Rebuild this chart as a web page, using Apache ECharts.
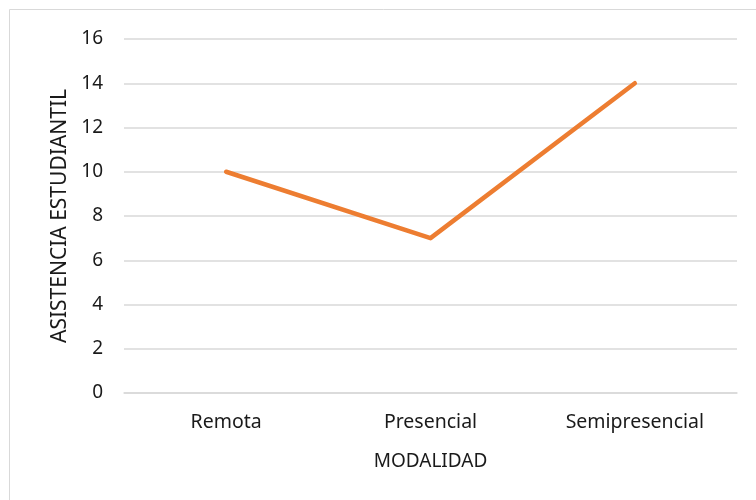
<!DOCTYPE html>
<html><head><meta charset="utf-8">
<script src="https://cdn.jsdelivr.net/npm/echarts@6/dist/echarts.min.js"></script>
<style>html,body{margin:0;padding:0;background:#fff}#c{width:756px;height:500px}</style>
</head><body><div id="c"></div>
<script>
var categories = ["Remota", "Presencial", "Semipresencial"];
var values = [10, 7, 14];
var yTicks = {min: 0, max: 16, interval: 2};

var chart = echarts.init(document.getElementById('c'), null, {renderer: 'canvas'});
var font = '"Noto Sans", sans-serif';
chart.setOption({
  animation: false,
  backgroundColor: '#fff',
  textStyle: {fontFamily: font},
  graphic: [{type: 'rect', shape: {x: 9.5, y: 9.5, width: 800, height: 600}, style: {fill: 'none', stroke: '#d9d9d9', lineWidth: 1}, z: -1}],
  grid: {left: 124, right: 19, top: 39, bottom: 107},
  xAxis: {
    type: 'category', data: categories, boundaryGap: true,
    name: 'MODALIDAD', nameLocation: 'middle', nameGap: 59,
    nameTextStyle: {fontSize: 19, color: '#1a1a1a', fontFamily: font},
    axisLine: {lineStyle: {color: '#d9d9d9', width: 1.5}},
    axisTick: {show: false},
    axisLabel: {fontSize: 19.5, color: '#1a1a1a', margin: 19, fontFamily: font}
  },
  yAxis: {
    type: 'value', min: yTicks.min, max: yTicks.max, interval: yTicks.interval,
    name: 'ASISTENCIA ESTUDIANTIL', nameLocation: 'middle', nameRotate: 90, nameGap: 53,
    nameTextStyle: {fontSize: 21, color: '#1a1a1a', fontFamily: font},
    axisLine: {show: false}, axisTick: {show: false},
    splitLine: {lineStyle: {color: '#d9d9d9', width: 1.5}},
    axisLabel: {fontSize: 19, color: '#1a1a1a', margin: 21, fontFamily: font}
  },
  series: [{
    type: 'line', data: values, symbol: 'none',
    lineStyle: {color: '#ed7d31', width: 4.5, cap: 'round', join: 'round'}
  }]
});
</script></body></html>
